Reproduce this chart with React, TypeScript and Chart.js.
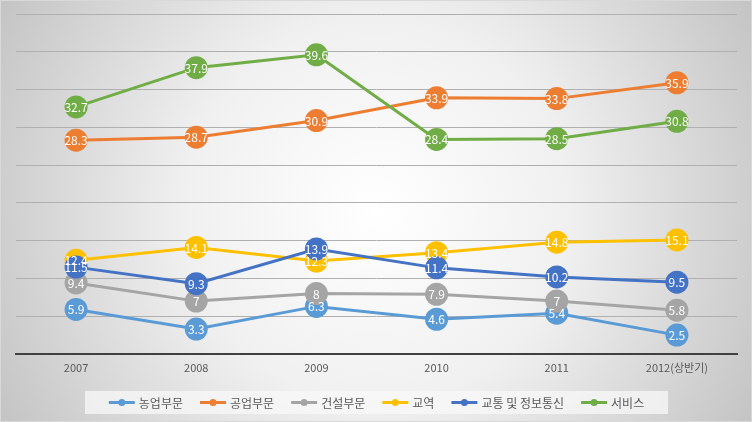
import React, { useEffect, useRef } from "react";
import { Chart, registerables } from "chart.js";

Chart.register(...registerables);

const categories = ["2007", "2008", "2009", "2010", "2011", "2012(상반기)"];
const seriesNames = ["농업부문", "공업부문", "건설부문", "교역", "교통 및 정보통신", "서비스"];
const agriculture = [5.9, 3.3, 6.3, 4.6, 5.4, 2.5];
const industry = [28.3, 28.7, 30.9, 33.9, 33.8, 35.9];
const construction = [9.4, 7, 8, 7.9, 7, 5.8];
const trade = [12.4, 14.1, 12.3, 13.4, 14.8, 15.1];
const transport = [11.5, 9.3, 13.9, 11.4, 10.2, 9.5];
const services = [32.7, 37.9, 39.6, 28.4, 28.5, 30.8];
const colors = ["#5b9bd5", "#ed7d31", "#a5a5a5", "#ffc000", "#4472c4", "#70ad47"];

const FONT = '"Noto Sans CJK KR", "Noto Sans", sans-serif';

const bgPlugin = {
  id: "bg",
  beforeDraw(chart: any) {
    const { ctx, width, height } = chart;
    ctx.save();
    const g = ctx.createRadialGradient(width / 2, height / 2, 0, width / 2, height / 2, 430);
    g.addColorStop(0, "#ffffff");
    g.addColorStop(0.45, "#f0f0f0");
    g.addColorStop(1, "#c4c4c4");
    ctx.fillStyle = g;
    ctx.fillRect(0, 0, width, height);
    ctx.strokeStyle = "#d9d9d9";
    ctx.lineWidth = 1;
    ctx.strokeRect(0.5, 0.5, width - 1, height - 1);
    ctx.restore();
  },
};

const labelPlugin = {
  id: "valueLabels",
  afterDatasetsDraw(chart: any) {
    const { ctx } = chart;
    ctx.save();
    ctx.font = `12px ${FONT}`;
    ctx.fillStyle = "#ffffff";
    ctx.textAlign = "center";
    ctx.textBaseline = "middle";
    chart.data.datasets.forEach((ds: any, i: number) => {
      const meta = chart.getDatasetMeta(i);
      meta.data.forEach((pt: any, j: number) => {
        ctx.fillText(String(ds.data[j]), pt.x, pt.y + 0.5);
      });
    });
    ctx.restore();
  },
};

const legendPlugin = {
  id: "customLegend",
  afterDraw(chart: any) {
    const { ctx } = chart;
    ctx.save();
    const boxX = 85, boxY = 391, boxW = 583, boxH = 23;
    ctx.fillStyle = "rgba(248,248,248,0.75)";
    ctx.fillRect(boxX, boxY, boxW, boxH);
    ctx.font = `12px ${FONT}`;
    const lineLen = 26, gap = 4, itemGap = 17;
    const widths = seriesNames.map((n) => lineLen + gap + ctx.measureText(n).width);
    const total = widths.reduce((a, b) => a + b, 0) + itemGap * (seriesNames.length - 1);
    let x = boxX + boxW / 2 - total / 2;
    const cy = boxY + boxH / 2;
    seriesNames.forEach((n, i) => {
      ctx.strokeStyle = colors[i];
      ctx.lineWidth = 3;
      ctx.beginPath();
      ctx.moveTo(x, cy);
      ctx.lineTo(x + lineLen, cy);
      ctx.stroke();
      ctx.fillStyle = colors[i];
      ctx.beginPath();
      ctx.arc(x + lineLen / 2, cy, 3.5, 0, Math.PI * 2);
      ctx.fill();
      ctx.fillStyle = "#595959";
      ctx.textAlign = "left";
      ctx.textBaseline = "middle";
      ctx.fillText(n, x + lineLen + gap, cy + 0.5);
      x += widths[i] + itemGap;
    });
    ctx.restore();
  },
};

export default function App() {
  const ref = useRef<HTMLCanvasElement | null>(null);
  useEffect(() => {
    document.body.style.margin = "0";
    const allData = [agriculture, industry, construction, trade, transport, services];
    const chart = new Chart(ref.current as HTMLCanvasElement, {
      type: "line",
      data: {
        labels: categories,
        datasets: seriesNames.map((name, i) => ({
          label: name,
          data: allData[i],
          borderColor: colors[i],
          backgroundColor: colors[i],
          pointBackgroundColor: colors[i],
          pointBorderColor: colors[i],
          pointBorderWidth: 0,
          pointRadius: 11.5,
          pointHoverRadius: 11.5,
          borderWidth: 3,
          tension: 0,
          fill: false,
          order: 5 - i,
          clip: false as any,
        })),
      },
      options: {
        responsive: false,
        animation: false,
        layout: { padding: { left: 16, right: 15, top: 14, bottom: 28 } },
        plugins: { legend: { display: false }, tooltip: { enabled: false } },
        scales: {
          x: {
            offset: true,
            grid: { display: false, drawTicks: false },
            border: { display: true, color: "#404040", width: 2 },
            ticks: { color: "#595959", font: { size: 11, family: FONT }, padding: 7, maxRotation: 0, autoSkip: false },
            afterFit: (s: any) => { s.height = 40; },
          },
          y: {
            min: 0,
            max: 45,
            ticks: { display: false, stepSize: 5 },
            grid: { color: "#b0b0b0", lineWidth: 1, drawTicks: false },
            border: { display: false },
            afterFit: (s: any) => { s.width = 0; },
          },
        },
      },
      plugins: [bgPlugin, labelPlugin, legendPlugin],
    });
    return () => chart.destroy();
  }, []);
  return (
    <div style={{ position: "fixed", left: 0, top: 0, width: 752, height: 422 }}>
      <canvas ref={ref} width={752} height={422} style={{ display: "block" }} />
    </div>
  );
}
